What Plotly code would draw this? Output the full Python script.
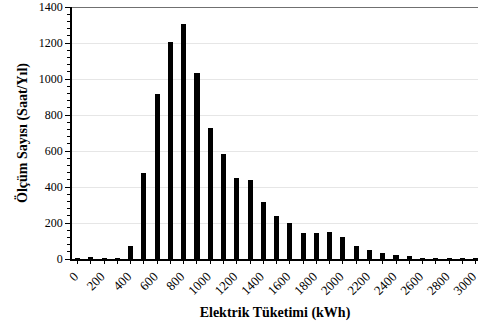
import plotly.graph_objects as go

energy_kwh = list(range(0, 3001, 100))
counts = [3, 8, 3, 3, 70, 477, 915, 1208, 1305, 1031, 726, 582, 450, 438, 318,
          238, 198, 146, 146, 152, 122, 72, 48, 31, 25, 16, 3, 2, 3, 1, 1]
tick_vals = list(range(0, 3001, 200))
tick_text = [str(v) for v in tick_vals]

font_family = "Liberation Serif, Times New Roman, serif"

fig = go.Figure(go.Bar(
    x=energy_kwh, y=counts, width=38,
    marker=dict(color="black", line=dict(width=0)),
))

fig.update_layout(
    width=478, height=324,
    margin=dict(l=72, r=0, t=7, b=65),
    plot_bgcolor="white", paper_bgcolor="white",
    showlegend=False,
    font=dict(family=font_family, size=12, color="black"),
    bargap=0,
)

fig.update_xaxes(
    range=[-42, 3018], automargin=False, ticklabeloverflow="allow",
    tickmode="array", tickvals=tick_vals, ticktext=tick_text,
    tickangle=-45, ticks="outside", ticklen=3, tickwidth=1, tickcolor="black",
    ticklabelshift=-3,
    minor=dict(dtick=100, tick0=0, ticks="outside", ticklen=3, tickwidth=1, tickcolor="black"),
    showline=True, linecolor="black", linewidth=1.5,
    showgrid=False, zeroline=False,
    tickfont=dict(family=font_family, size=13),
    title=dict(text="<b>Elektrik Tüketimi (kWh)</b>", font=dict(family=font_family, size=14), standoff=10),
)

fig.update_yaxes(
    range=[0, 1400], dtick=200, tick0=0, automargin=False,
    ticks="outside", ticklen=5, tickwidth=1, tickcolor="black",
    minor=dict(dtick=40, ticks="outside", ticklen=3, tickwidth=1, tickcolor="black", showgrid=False),
    showline=True, linecolor="black", linewidth=1.5,
    showgrid=True, gridcolor="#e6e6e6", gridwidth=1,
    zeroline=False,
    tickfont=dict(family=font_family, size=12),
    title=dict(text="<b>Ölçüm Sayısı (Saat/Yıl)</b>", font=dict(family=font_family, size=14), standoff=8),
)

fig.add_shape(type="line", xref="paper", yref="y", x0=0, x1=1, y0=1400, y1=1400,
              line=dict(color="#707070", width=2))

fig.write_html("out.html", config={"displayModeBar": False},
               post_script="document.body.style.margin='0';document.body.style.overflow='hidden';")
